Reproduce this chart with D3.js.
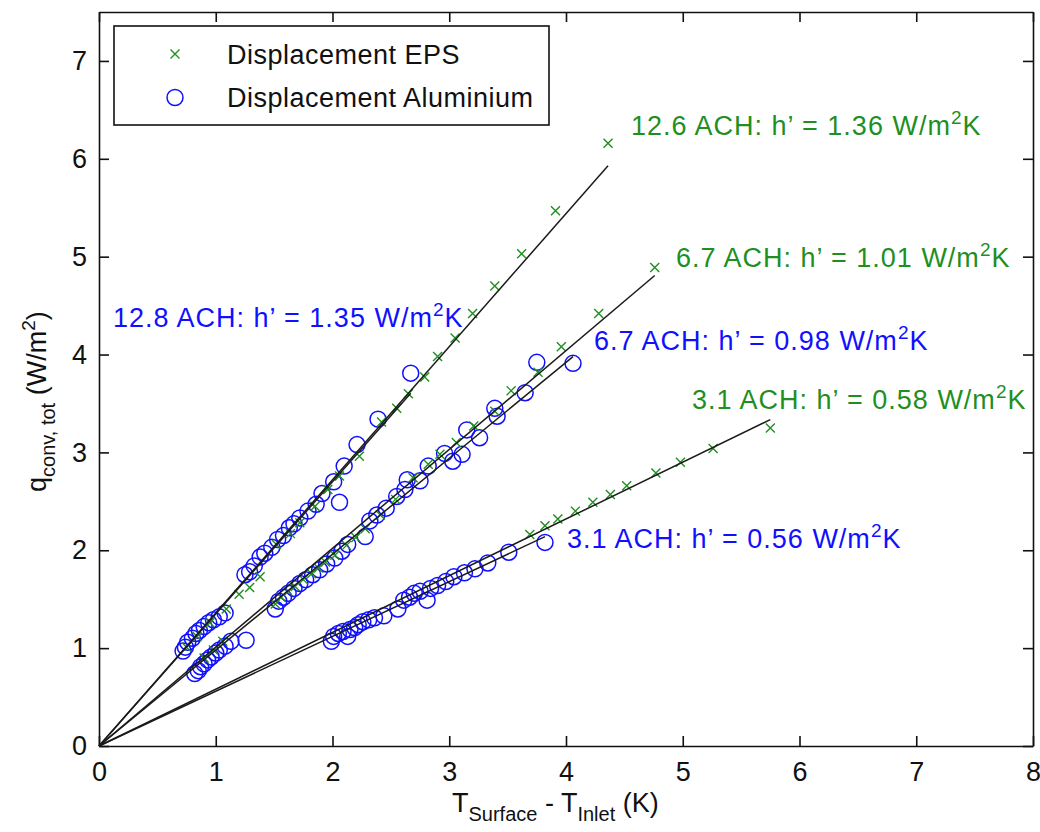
<!DOCTYPE html>
<html>
<head>
<meta charset="utf-8">
<script src="https://cdn.jsdelivr.net/npm/d3@7"></script>
<style>
  body { margin: 0; background: #fff; }
  svg text { font-family: "Liberation Sans", Arial, sans-serif; }
</style>
</head>
<body>
<svg id="chart" width="1040" height="832"></svg>
<script>
// measured points, [dT, q]
var eps126 = [[0.75,1.01],[0.84,1.12],[0.95,1.26],[1.09,1.40],[1.20,1.55],[1.29,1.62],[1.38,1.73],
  [1.52,2.06],[1.64,2.17],[1.72,2.28],[1.85,2.45],[1.96,2.62],[2.06,2.76],[2.23,2.96],[2.42,3.31],
  [2.55,3.45],[2.65,3.60],[2.79,3.77],[2.90,3.98],[3.05,4.17],[3.20,4.42],[3.39,4.70],[3.62,5.03],
  [3.91,5.47],[4.36,6.16]];
var alu128 = [[0.72,0.97],[0.74,1.01],[0.76,1.06],[0.80,1.10],[0.83,1.15],[0.86,1.18],[0.90,1.22],
  [0.94,1.26],[0.98,1.29],[1.03,1.32],[1.08,1.36],[1.25,1.75],[1.29,1.78],[1.33,1.84],[1.38,1.93],
  [1.42,1.97],[1.48,2.03],[1.53,2.11],[1.58,2.15],[1.63,2.23],[1.67,2.27],[1.72,2.33],[1.79,2.40],
  [1.86,2.47],[1.91,2.58],[2.01,2.70],[2.06,2.49],[2.10,2.86],[2.21,3.08],[2.39,3.34],[2.67,3.81]];
var eps67 = [[0.90,0.90],[0.98,0.98],[1.06,1.07],[1.51,1.45],[1.56,1.52],[1.62,1.58],[1.68,1.63],
  [1.75,1.70],[1.82,1.76],[1.88,1.82],[1.94,1.88],[2.02,1.95],[2.12,2.05],[2.20,2.13],[2.28,2.22],
  [2.41,2.36],[2.54,2.52],[2.69,2.74],[2.82,2.88],[2.92,2.98],[3.06,3.10],[3.21,3.27],[3.39,3.42],
  [3.53,3.63],[3.76,3.82],[3.96,4.08],[4.28,4.42],[4.76,4.89]];
var alu67 = [[0.82,0.74],[0.85,0.77],[0.87,0.81],[0.90,0.84],[0.93,0.88],[0.96,0.91],[1.00,0.95],
  [1.03,0.98],[1.08,1.02],[1.13,1.07],[1.26,1.08],[1.51,1.40],[1.54,1.48],[1.58,1.52],[1.62,1.56],
  [1.67,1.61],[1.72,1.66],[1.77,1.70],[1.83,1.75],[1.89,1.80],[1.95,1.86],[2.02,1.92],[2.08,1.99],
  [2.13,2.06],[2.28,2.14],[2.32,2.30],[2.38,2.36],[2.46,2.43],[2.55,2.55],[2.62,2.62],[2.64,2.72],
  [2.75,2.71],[2.82,2.86],[2.96,2.99],[3.03,2.91],[3.11,2.98],[3.15,3.23],[3.26,3.15],[3.39,3.45],
  [3.41,3.37],[3.65,3.61],[3.75,3.92],[4.06,3.91]];
var eps31 = [[3.69,2.16],[3.82,2.25],[3.93,2.32],[4.08,2.40],[4.23,2.49],[4.38,2.57],[4.52,2.66],
  [4.77,2.79],[4.98,2.90],[5.26,3.04],[5.75,3.25]];
var alu31 = [[1.99,1.07],[2.01,1.12],[2.05,1.15],[2.09,1.17],[2.13,1.12],[2.15,1.19],[2.19,1.21],
  [2.22,1.24],[2.26,1.27],[2.31,1.29],[2.36,1.31],[2.44,1.33],[2.56,1.40],[2.61,1.49],[2.66,1.52],
  [2.70,1.56],[2.75,1.58],[2.81,1.49],[2.84,1.61],[2.90,1.64],[2.97,1.68],[3.04,1.73],[3.13,1.77],
  [3.22,1.81],[3.33,1.87],[3.51,1.98],[3.82,2.08]];

// fitted h' (slope through origin) and end of each fit line
var fitSlopes = [1.36, 1.35, 1.01, 0.98, 0.58, 0.56];
var fitEnds   = [4.36, 2.67, 4.76, 4.06, 5.75, 3.82];

var labelTexts = ["12.6 ACH: h\u2019 = 1.36 W/m", "12.8 ACH: h\u2019 = 1.35 W/m",
  "6.7 ACH: h\u2019 = 1.01 W/m", "6.7 ACH: h\u2019 = 0.98 W/m",
  "3.1 ACH: h\u2019 = 0.58 W/m", "3.1 ACH: h\u2019 = 0.56 W/m"];
var labelIsEps = [true, false, true, false, true, false];

var xTicks = [0, 1, 2, 3, 4, 5, 6, 7, 8];
var yTicks = [0, 1, 2, 3, 4, 5, 6, 7];

var green = "#1f8f1f", blue = "#1010ff";
var svg = d3.select("#chart");
var plotL = 99, plotR = 1033, plotT = 12, plotB = 746;

var x = d3.scaleLinear().domain([0, 8]).range([plotL, plotR]);
var y = d3.scaleLinear().domain([0, 7.5]).range([plotB, plotT]);

// axes, ticks pointing inwards on all four sides
svg.append("g").attr("transform", "translate(0," + plotB + ")")
  .call(d3.axisBottom(x).tickValues(xTicks).tickSizeInner(-10).tickSizeOuter(0).tickPadding(16));
svg.append("g").attr("transform", "translate(" + plotL + ",0)")
  .call(d3.axisLeft(y).tickValues(yTicks).tickSizeInner(-10).tickSizeOuter(0).tickPadding(12));
svg.append("g").attr("transform", "translate(0," + plotT + ")")
  .call(d3.axisTop(x).tickValues(xTicks).tickSizeInner(-10).tickSizeOuter(0).tickFormat(""));
svg.append("g").attr("transform", "translate(" + plotR + ",0)")
  .call(d3.axisRight(y).tickValues(yTicks).tickSizeInner(-10).tickSizeOuter(0).tickFormat(""));
svg.selectAll(".tick text").attr("font-size", 27).attr("fill", "#111");
svg.selectAll(".domain, .tick line").attr("stroke", "#111").attr("stroke-width", 1.6);

// data markers
function crossPath(cx, cy) {
  var s = 4.5;
  return "M" + (cx - s) + "," + (cy - s) + "L" + (cx + s) + "," + (cy + s) +
         "M" + (cx - s) + "," + (cy + s) + "L" + (cx + s) + "," + (cy - s);
}
function drawCross(data) {
  svg.append("g").selectAll("path").data(data).enter().append("path")
    .attr("d", function(d) { return crossPath(x(d[0]), y(d[1])); })
    .attr("stroke", green).attr("stroke-width", 1.4).attr("fill", "none");
}
function drawCircle(data) {
  svg.append("g").selectAll("circle").data(data).enter().append("circle")
    .attr("cx", function(d) { return x(d[0]); })
    .attr("cy", function(d) { return y(d[1]); })
    .attr("r", 8)
    .attr("stroke", blue).attr("stroke-width", 1.5).attr("fill", "none");
}
drawCircle(alu128); drawCircle(alu67); drawCircle(alu31);
drawCross(eps126); drawCross(eps67); drawCross(eps31);

// fit lines
svg.append("g").selectAll("line").data(fitSlopes).enter().append("line")
  .attr("x1", x(0)).attr("y1", y(0))
  .attr("x2", function(d, i) { return x(fitEnds[i]); })
  .attr("y2", function(d, i) { return y(d * fitEnds[i]); })
  .attr("stroke", "#1a1a1a").attr("stroke-width", 1.5);

// annotations
var labelPos = [[631, 135], [113, 327], [676, 267], [594, 350], [692, 409], [567, 548]];
labelTexts.forEach(function(t, i) {
  var tx = svg.append("text").attr("x", labelPos[i][0]).attr("y", labelPos[i][1])
    .attr("font-size", 27).attr("letter-spacing", 1)
    .attr("fill", labelIsEps[i] ? green : blue);
  tx.append("tspan").text(t);
  tx.append("tspan").attr("font-size", 19).attr("dy", -11).text("2");
  tx.append("tspan").attr("dy", 11).text("K");
});

// legend
svg.append("rect").attr("x", 114).attr("y", 26).attr("width", 435).attr("height", 99)
  .attr("fill", "#fff").attr("stroke", "#111").attr("stroke-width", 1.6);
svg.append("path").attr("d", crossPath(175, 54))
  .attr("stroke", green).attr("stroke-width", 1.4);
svg.append("circle").attr("cx", 175).attr("cy", 97.5).attr("r", 8)
  .attr("stroke", blue).attr("stroke-width", 1.5).attr("fill", "none");
svg.append("text").attr("x", 227).attr("y", 64).attr("font-size", 27).attr("letter-spacing", 0.5)
  .attr("fill", "#111").text("Displacement EPS");
svg.append("text").attr("x", 227).attr("y", 107).attr("font-size", 27).attr("letter-spacing", 0.5)
  .attr("fill", "#111").text("Displacement Aluminium");

// axis titles
var xl = svg.append("text").attr("x", 452).attr("y", 812).attr("font-size", 27).attr("fill", "#111");
xl.append("tspan").text("T");
xl.append("tspan").attr("font-size", 20).attr("dy", 9).text("Surface");
xl.append("tspan").attr("dy", -9).text(" - T");
xl.append("tspan").attr("font-size", 20).attr("dy", 9).text("Inlet");
xl.append("tspan").attr("dy", -9).text(" (K)");

var yl = svg.append("text").attr("transform", "translate(46,492) rotate(-90)")
  .attr("font-size", 27).attr("fill", "#111");
yl.append("tspan").text("q");
yl.append("tspan").attr("font-size", 20).attr("dy", 9).text("conv, tot");
yl.append("tspan").attr("dy", -9).text(" (W/m");
yl.append("tspan").attr("font-size", 19).attr("dy", -11).text("2");
yl.append("tspan").attr("dy", 11).text(")");
</script>
</body>
</html>
